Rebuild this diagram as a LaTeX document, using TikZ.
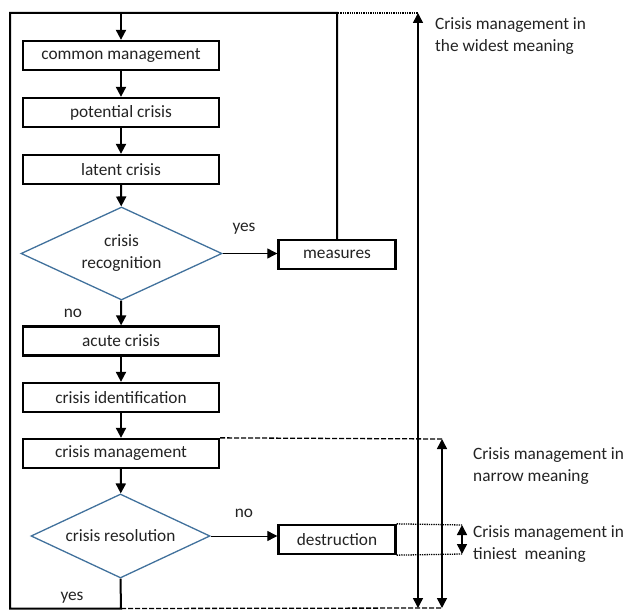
\documentclass[tikz,border=0pt]{standalone}
\usepackage{fontspec}
\setmainfont{Carlito}
\usetikzlibrary{arrows.meta,shapes.geometric}
\definecolor{dblue}{RGB}{65,113,156}
\definecolor{txt}{RGB}{35,35,35}
\begin{document}
\begin{tikzpicture}[x=1pt,y=-1pt,
  every node/.style={font=\fontsize{17.3}{22}\selectfont, text=txt},
  box/.style={draw=black, line width=2.3pt, minimum width=196pt, minimum height=29pt, inner sep=0pt},
  dec/.style={draw=dblue, line width=1.3pt, diamond, inner sep=0pt, align=center},
  flow/.style={line width=2pt, -{Triangle[width=10pt,length=10pt]}},
  thinflow/.style={line width=0.9pt, -{Triangle[width=10pt,length=10pt]}},
  loopline/.style={line width=2pt},
  span/.style={line width=1.5pt, {Triangle[width=10pt,length=10pt]}-{Triangle[width=10pt,length=10pt]}},
  guide/.style={line width=1.3pt, densely dotted},
  guidedash/.style={line width=1.3pt, dash pattern=on 5pt off 2pt},
  lbl/.style={anchor=west, align=left, inner sep=0pt}
]
\useasboundingbox (0,0) rectangle (630,610);

\node[box] (cm) at (121,55.5) {common management};
\node[box] (pc) at (121,112.5) {potential crisis};
\node[box] (lc) at (121,169.5) {latent crisis};
\node[dec, aspect=2.16, minimum width=201pt, minimum height=93pt] (cr) at (121.5,253.5) {crisis\\recognition};
\node[box, minimum width=117pt] (me) at (337,254.5) {measures};
\node[box] (ac) at (121,341) {acute crisis};
\node[box] (ci) at (121,397.5) {crisis identification};
\node[box] (cmg) at (121,453.5) {crisis management};
\node[dec, aspect=2.13, minimum width=179pt, minimum height=84pt] (res) at (120.5,536) {crisis resolution};
\node[box, minimum width=117pt] (de) at (337,539.5) {destruction};

\coordinate (tl) at (10,13);
\coordinate (bl) at (10,608.5);
\coordinate (tc) at (121,13);
\coordinate (tm) at (338,13);
\coordinate (bc) at (121,608.5);
\coordinate (wt) at (418,13);
\coordinate (wb) at (418,608);
\coordinate (nt) at (442,439);
\coordinate (nb) at (442,608);
\coordinate (tt) at (462,525);
\coordinate (tb) at (462,554);

% loop back
\draw[loopline] (me.north) -- (me.north |- tm) -- (tl) -- (bl) -- (bc) -- (res.south);

% flow
\draw[flow] (tc) -- (cm.north);
\draw[flow] (cm) -- (pc);
\draw[flow] (pc) -- (lc);
\draw[flow] (lc) -- (cr);
\draw[flow] (cr) -- (ac);
\draw[flow] (ac) -- (ci);
\draw[flow] (ci) -- (cmg);
\draw[flow] (cmg) -- (res);
\draw[thinflow] (cr.east) -- (cr.east -| me.west);
\draw[thinflow] (res.east) -- (res.east -| de.west);

% guides
\draw[guide] (tm) -- (wt);
\draw[guidedash] (cmg.north east) -- (nt);
\draw[guidedash] (bc) -- (nb);
\draw[guide] (de.north east) -- (tt);
\draw[guide] (de.south east) -- (tb);

% spans
\draw[span] (wt) -- (wb);
\draw[span] (nt) -- (nb);
\draw[span] (tt) -- (tb);

% labels
\node (y1) at (244,229) {yes};
\node (n1) at (73,313) {no};
\node (n2) at (244,513) {no};
\node (y2) at (72,598) {yes};
\node[lbl] (lw) at (435,36) {Crisis management in\\the widest meaning};
\node[lbl] (ln) at (473,466) {Crisis management in\\narrow meaning};
\node[lbl] (lt) at (473,544) {Crisis management in\\tiniest~ meaning};
\end{tikzpicture}
\end{document}
